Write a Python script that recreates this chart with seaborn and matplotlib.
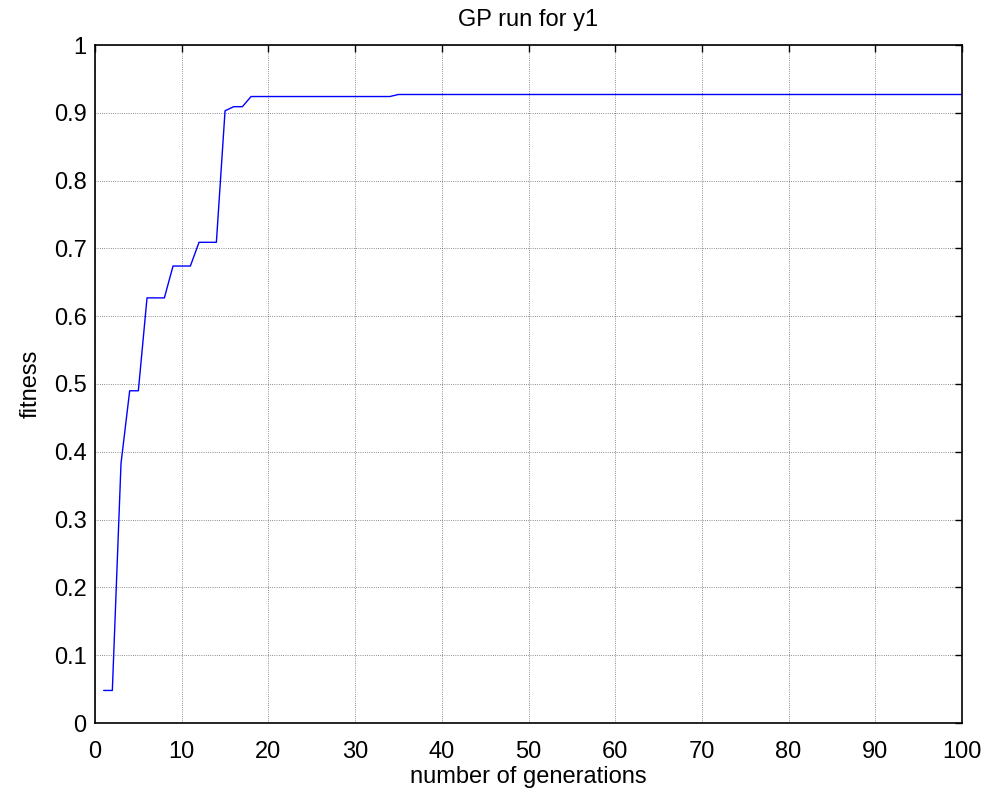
import numpy as np
import pandas as pd
import seaborn as sns
import matplotlib.pyplot as plt

# best fitness per generation
gen_early = list(range(1, 19))
fit_early = [0.048, 0.048, 0.383, 0.490, 0.490, 0.627, 0.627, 0.627, 0.674,
             0.674, 0.674, 0.709, 0.709, 0.709, 0.903, 0.909, 0.909, 0.924]
gen_mid = list(range(19, 35))
fit_mid = [0.924] * len(gen_mid)
gen_late = list(range(35, 101))
fit_late = [0.927] * len(gen_late)

df = pd.DataFrame({'generation': gen_early + gen_mid + gen_late,
                   'fitness': fit_early + fit_mid + fit_late})

sns.set_style('white')
plt.rcParams['font.family'] = ['Liberation Sans', 'DejaVu Sans']
plt.rcParams['text.color'] = 'black'
plt.rcParams['axes.labelcolor'] = 'black'
plt.rcParams['xtick.color'] = 'black'
plt.rcParams['ytick.color'] = 'black'

fig = plt.figure(figsize=(9.9, 8.08), dpi=100)
ax = fig.add_axes([95 / 990, 1 - 723 / 808, 867 / 990, 678 / 808])

sns.lineplot(data=df, x='generation', y='fitness', color='#0000ff', linewidth=1.0, ax=ax)

ax.set_xlim(0, 100)
ax.set_ylim(0, 1)
ax.set_xticks(np.arange(0, 101, 10))
ax.set_yticks(np.round(np.arange(0, 1.01, 0.1), 1))
ax.set_yticklabels(['0', '0.1', '0.2', '0.3', '0.4', '0.5', '0.6', '0.7', '0.8', '0.9', '1'])
ax.grid(True, color='#000000', linestyle=':', linewidth=0.6, alpha=0.6)
ax.tick_params(direction='in', length=5, width=1, top=True, right=True, labelsize=17)
ax.tick_params(axis='x', pad=13)
ax.tick_params(axis='y', pad=6)
for s in ax.spines.values():
    s.set_color('black')
    s.set_linewidth(1.2)

ax.set_xlabel('number of generations', fontsize=17, labelpad=2)
ax.set_ylabel('fitness', fontsize=17, labelpad=9)
ax.set_title('GP run for y1', fontsize=17, pad=14)

fig.savefig('out.png', dpi=100)
